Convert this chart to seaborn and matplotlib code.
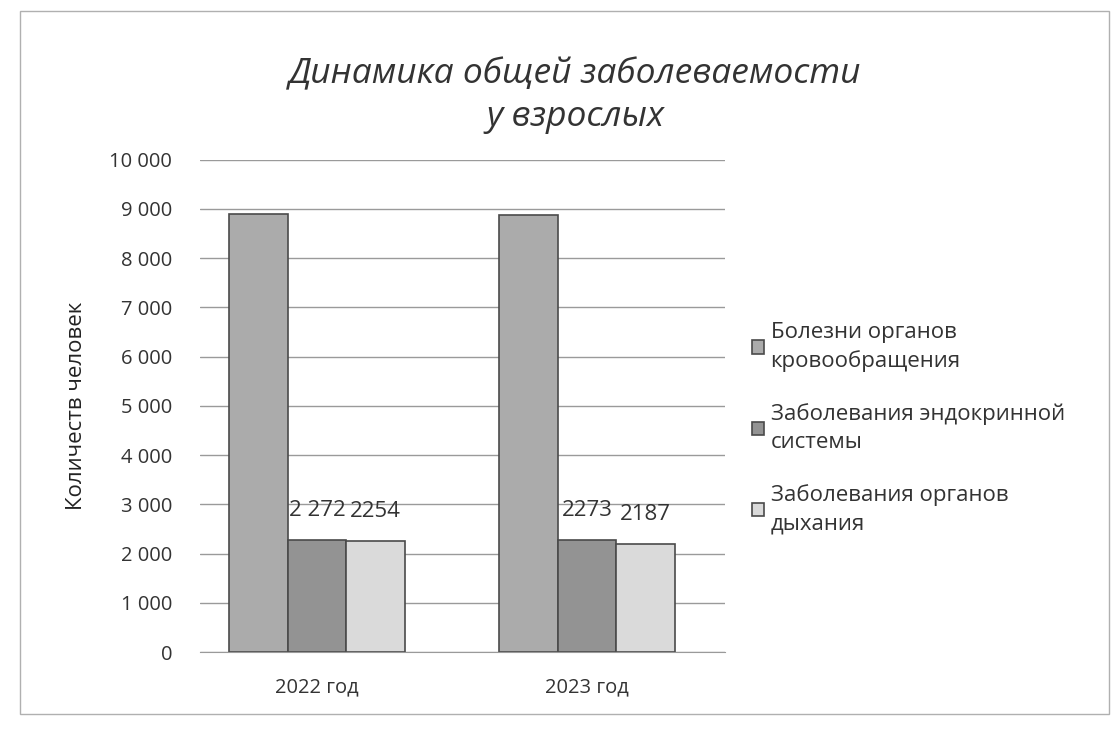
import matplotlib
matplotlib.use("Agg")
import matplotlib.pyplot as plt
import matplotlib.ticker as mticker
from matplotlib.patches import Rectangle
import pandas as pd
import seaborn as sns

# data
years = ["2022 год", "2023 год"]
series = ["Болезни органов\nкровообращения",
          "Заболевания эндокринной\nсистемы",
          "Заболевания органов\nдыхания"]
circulatory = [8900, 8870]
endocrine = [2272, 2273]
respiratory = [2254, 2187]
endocrine_labels = ["2 272", "2273"]
respiratory_labels = ["2254", "2187"]
colors = ["#ababab", "#939393", "#dadada"]

rows = []
for name, vals in zip(series, [circulatory, endocrine, respiratory]):
    for y, v in zip(years, vals):
        rows.append({"year": y, "disease": name, "count": v})
df = pd.DataFrame(rows)

sns.set_style("white")
plt.rcParams['font.family'] = ['Open Sans', 'DejaVu Sans']

fig = plt.figure(figsize=(11.17, 7.36), dpi=100)
ax = fig.add_axes([0.179, 0.114, 0.47, 0.669])

sns.barplot(data=df, x="year", y="count", hue="disease", palette=colors,
            width=0.65, edgecolor="#4a4a4a", linewidth=1.2, ax=ax, legend=True)

ax.set_xlim(-0.433, 1.51)
ax.set_ylim(0, 10000)
ax.yaxis.set_major_locator(mticker.MultipleLocator(1000))
ax.yaxis.set_major_formatter(mticker.FuncFormatter(lambda v, p: f"{int(v):,}".replace(",", " ")))
ax.grid(axis="y", color="#9a9a9a", linewidth=1)
ax.set_axisbelow(True)
for s in ["top", "right", "left"]:
    ax.spines[s].set_visible(False)
ax.spines["bottom"].set_color("#9a9a9a")
ax.tick_params(axis="y", length=0, labelsize=14.5, colors="#333333", pad=20)
ax.tick_params(axis="x", length=0, labelsize=14.5, colors="#333333", pad=18)
ax.set_xlabel("")
ax.set_ylabel("Количеств человек", fontsize=16, color="#222222", labelpad=16)

ax.bar_label(ax.containers[1], labels=endocrine_labels, fontsize=16, color="#333333", padding=14)
ax.bar_label(ax.containers[2], labels=respiratory_labels, fontsize=16, color="#333333", padding=14)

handles, labels = ax.get_legend_handles_labels()
ax.legend_.remove()
fig.legend(handles, labels, loc="upper left", bbox_to_anchor=(0.655, 0.59),
           frameon=False, handlelength=0.55, handleheight=0.55,
           handletextpad=0.3, labelspacing=1.4, labelcolor="#333333",
           prop={"size": 16})
for t in fig.legends[0].get_texts():
    t.set_linespacing(1.45)

fig.text(0.515, 0.87, "Динамика общей заболеваемости\nу взрослых", ha="center", va="center",
         fontsize=25.5, style="italic", color="#333333", linespacing=1.35)

fig.patches.append(Rectangle((0.018, 0.03), 0.975, 0.955, transform=fig.transFigure,
                             fill=False, edgecolor="#b0b0b0", linewidth=1))

fig.savefig("out.png", dpi=100, facecolor="white")
